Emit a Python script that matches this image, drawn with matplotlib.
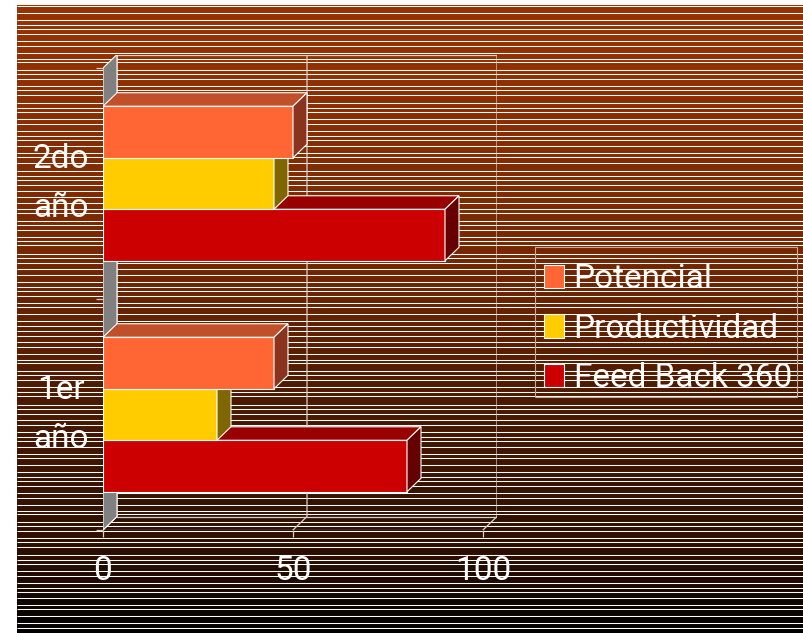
import numpy as np
import matplotlib.pyplot as plt
from matplotlib.patches import Polygon, Rectangle

# Data
categories = ['1er\naño', '2do\naño']
series = ['Potencial', 'Productividad', 'Feed Back 360']
potencial = [45, 50]
productividad = [30, 45]
feedback = [80, 90]
x_ticks = [0, 50, 100]

plt.rcParams['font.family'] = ['Roboto', 'DejaVu Sans']
FS = 24

W, H = 804, 633
fig = plt.figure(figsize=(W / 100, H / 100), dpi=100, facecolor='white')

# Striped gradient backdrop (brown at the top fading to black)
bg = fig.add_axes([17 / W, 0, 1 - 17 / W, 628 / H])
bg.set_axis_off()
bg.set_xlim(0, 1)
bg.set_ylim(628, 0)
rows = np.linspace(0, 628, 400)
shade = np.interp(rows, [0, 245, 395, 555, 628], [1.0, 0.78, 0.5, 0.27, 0.0])
grad = np.array([153, 51, 0]) / 255 * shade[:, None]
bg.imshow(grad[:, None, :], aspect='auto', extent=(0, 1, 628, 0))
gaps = [6.7, 7.3, 5.0, 4.3, 5.0, 6.4, 5.3, 6.7, 6.0, 3.3, 8.0, 4.0, 5.0, 7.0,
        4.3, 4.4, 8.6, 4.4, 4.6, 6.4, 5.3, 7.0, 5.0, 4.0, 5.7, 7.0, 4.0]
stripes = 1 + np.concatenate([[0], np.cumsum(np.resize(gaps, 130))])
bg.hlines(stripes[stripes < 627], 0, 1, color='white', lw=0.75)

# Plot area, in pixels of the figure
L, R, B, T = 103, 497, 530, 55
ax = fig.add_axes([L / W, (H - B) / H, (R - L) / W, (B - T) / H])
ax.patch.set_alpha(0)
px_x, px_y = 3.8, 231
ddx, ddy = 14 / px_x, 13.5 / px_y
ax.set_xlim(0, (R - L) / px_x)
ax.set_ylim(0, (B - T) / px_y)
ncat = len(categories)
xmax = x_ticks[-1]

# left wall
ax.add_patch(Polygon([(0, 0), (ddx, ddy), (ddx, ncat + ddy), (0, ncat)],
                     fc='#808080', ec='white', lw=0.8, zorder=1))

# back wall grid and floor
grid_c = '#d8d0cc'
for t in x_ticks:
    ax.plot([t, t + ddx, t + ddx], [0, ddy, ncat + ddy], color=grid_c, lw=0.9, zorder=0.5)
ax.plot([0, xmax], [0, 0], color=grid_c, lw=0.9, zorder=0.5)
ax.plot([ddx, xmax + ddx], [ddy, ddy], color=grid_c, lw=0.9, zorder=0.5)
ax.plot([ddx, xmax + ddx], [ncat + ddy] * 2, color=grid_c, lw=0.9, zorder=0.5)

# 3D bars, drawn from the lowest bar upwards
h = 0.223
pos = np.arange(ncat) + 0.5
specs = [(feedback, -h, '#CC0000', '#990000', '#660000', 'Feed Back 360'),
         (productividad, 0, '#FFCC00', '#B38F00', '#806600', 'Productividad'),
         (potencial, h, '#FF6633', '#C0502A', '#8A3420', 'Potencial')]
handles = {}
for z, (vals, off, front, top, side, name) in enumerate(specs, start=3):
    ys = pos + off
    bars = ax.barh(ys, vals, height=h, color=front, edgecolor='white',
                   linewidth=0.8, zorder=z, label=name)
    handles[name] = bars
    for y, v in zip(ys, vals):
        y0, y1 = y - h / 2, y + h / 2
        ax.add_patch(Polygon([(0, y1), (v, y1), (v + ddx, y1 + ddy), (ddx, y1 + ddy)],
                             fc=top, ec='white', lw=0.8, zorder=z))
        ax.add_patch(Polygon([(v, y0), (v + ddx, y0 + ddy), (v + ddx, y1 + ddy), (v, y1)],
                             fc=side, ec='white', lw=0.8, zorder=z))

for s in ax.spines.values():
    s.set_visible(False)

ax.set_xticks(x_ticks)
ax.tick_params(axis='x', color=grid_c, labelcolor='white', length=5, width=0.9,
               pad=13, labelsize=FS)
ax.set_yticks(range(ncat + 1))
ax.set_yticklabels([])
ax.tick_params(axis='y', which='major', color='#e8c8b8', length=5, width=0.9)
ax.set_yticks(pos, categories, minor=True)
ax.tick_params(axis='y', which='minor', length=0, pad=10, labelsize=FS, labelcolor='white')
for lbl in ax.get_yticklabels(minor=True):
    lbl.set_linespacing(1.65)
    lbl.set_multialignment('center')
    lbl.set_va('center')

# legend box
fig.add_artist(Rectangle((535 / W, (H - 397) / H), 262 / W, 150 / H, transform=fig.transFigure,
                         fill=False, ec='#c8a898', lw=0.8))
leg = ax.legend(handles=[handles[s] for s in series], labels=series,
                loc='upper left', bbox_to_anchor=(535 / W, (H - 254) / H),
                bbox_transform=fig.transFigure, frameon=False,
                fontsize=FS, labelcolor='white', handlelength=0.58, handleheight=0.7,
                handletextpad=0.3, labelspacing=0.52, borderpad=0.28, borderaxespad=0)

fig.savefig('out.png', dpi=100)
